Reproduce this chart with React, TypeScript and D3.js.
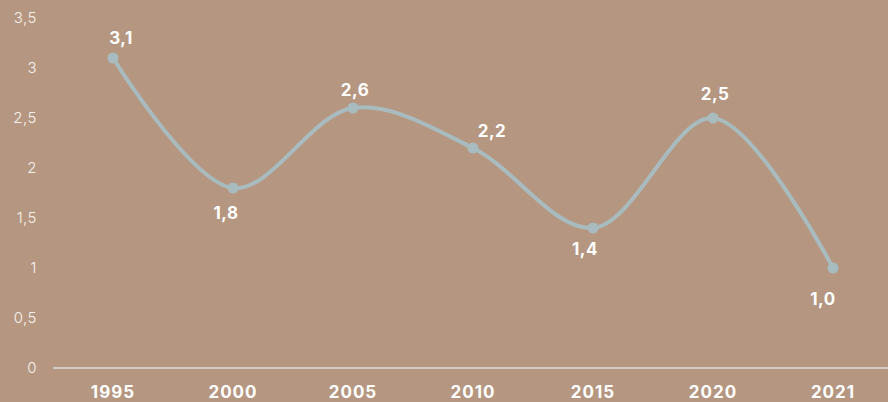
import * as React from "react";
import * as d3 from "d3";
import { useEffect, useRef } from "react";

const years = ["1995", "2000", "2005", "2010", "2015", "2020", "2021"];
const values = [3.1, 1.8, 2.6, 2.2, 1.4, 2.5, 1.0];
// value label placement relative to each point
const labelDx = [8, -7, 2, 19, -8, 2, -10];
const labelDy = [-20, 25, -18, -17, 21, -24, 31];
const yTicks = [0, 0.5, 1, 1.5, 2, 2.5, 3, 3.5];

const App: React.FunctionComponent = () => {
  const svgRef = useRef<SVGSVGElement>(null);

  useEffect(() => {
    document.body.style.margin = "0";
    const w = 888;
    const h = 402;
    const font = "Inter, sans-serif";
    const svg = d3.select(svgRef.current).attr("width", w).attr("height", h);
    svg.selectAll("*").remove();

    svg.append("rect").attr("width", w).attr("height", h).attr("fill", "#b59680");

    const x = d3.scaleBand().domain(years).range([53, 893]);
    const y = d3.scaleLinear().domain([0, 3.5]).range([368, 18]);
    const cx = (d: string) => (x(d) as number) + x.bandwidth() / 2;

    // y tick labels
    svg
      .selectAll(".ytick")
      .data(yTicks)
      .join("text")
      .attr("x", 37)
      .attr("y", (d) => y(d))
      .attr("dy", "0.35em")
      .attr("text-anchor", "end")
      .attr("font-family", font)
      .attr("font-weight", 300)
      .attr("font-size", 15)
      .attr("letter-spacing", 0.5)
      .attr("fill", "#f7f3ef")
      .text((d) => String(d).replace(".", ","));

    // baseline
    svg
      .append("line")
      .attr("x1", 53)
      .attr("x2", w)
      .attr("y1", y(0))
      .attr("y2", y(0))
      .attr("stroke", "#dcdcdc")
      .attr("stroke-width", 1.5);

    // x labels
    svg
      .selectAll(".xtick")
      .data(years)
      .join("text")
      .attr("x", cx)
      .attr("y", 392)
      .attr("dy", "0.35em")
      .attr("text-anchor", "middle")
      .attr("font-family", font)
      .attr("font-weight", 700)
      .attr("font-size", 17)
      .attr("letter-spacing", 1)
      .attr("fill", "#ffffff")
      .text((d) => d);

    const pts: [number, number][] = years.map((d, i) => [cx(d), y(values[i])]);
    const line = d3.line().curve(d3.curveCatmullRom.alpha(0.5));

    svg
      .append("path")
      .attr("d", line(pts))
      .attr("fill", "none")
      .attr("stroke", "#a8bcbf")
      .attr("stroke-width", 4);

    svg
      .selectAll(".pt")
      .data(pts)
      .join("circle")
      .attr("cx", (d) => d[0])
      .attr("cy", (d) => d[1])
      .attr("r", 5.5)
      .attr("fill", "#a8bcbf");

    svg
      .selectAll(".lbl")
      .data(values)
      .join("text")
      .attr("x", (d, i) => pts[i][0] + labelDx[i])
      .attr("y", (d, i) => pts[i][1] + labelDy[i])
      .attr("dy", "0.35em")
      .attr("text-anchor", "middle")
      .attr("font-family", font)
      .attr("font-weight", 700)
      .attr("font-size", 17)
      .attr("letter-spacing", 0.5)
      .attr("fill", "#ffffff")
      .text((d) => d.toFixed(1).replace(".", ","));
  }, []);

  return <svg ref={svgRef} style={{ display: "block" }}></svg>;
};

export default App;
